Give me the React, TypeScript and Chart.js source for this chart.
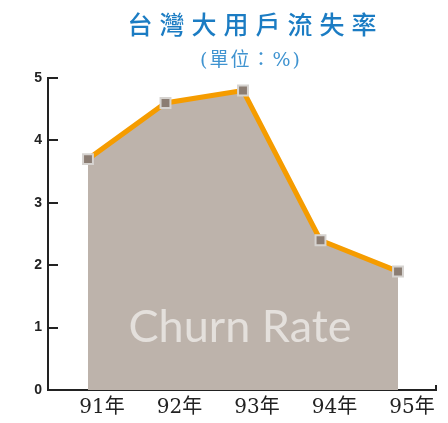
import React, { useEffect, useRef } from 'react';
import { Chart, registerables } from 'chart.js';

Chart.register(...registerables);

const titleText = '台灣大用戶流失率';
const subtitleText = '(單位：%)';
const watermarkText = 'Churn Rate';
const categories = ['91年', '92年', '93年', '94年', '95年'];
const churnRates = [3.7, 4.6, 4.8, 2.4, 1.9];
const yTickValues = [0, 1, 2, 3, 4, 5];

const decorPlugin = {
  id: 'decor',
  afterDatasetsDraw(chart: any) {
    const { ctx } = chart;
    const xs = chart.scales.x;
    const ys = chart.scales.y;
    ctx.save();
    ctx.font = '45px Lato';
    ctx.fillStyle = 'rgba(232,228,225,0.9)';
    ctx.textAlign = 'center';
    ctx.textBaseline = 'middle';
    ctx.fillText(watermarkText, xs.getPixelForValue(2) - 3, ys.getPixelForValue(1));
    ctx.restore();
  },
  afterDraw(chart: any) {
    const { ctx, chartArea } = chart;
    ctx.save();
    ctx.strokeStyle = '#222';
    ctx.lineWidth = 2;
    ctx.beginPath();
    ctx.moveTo(chartArea.right, chartArea.bottom + 1);
    ctx.lineTo(chartArea.right, chartArea.bottom - 5);
    ctx.stroke();

    const drawSpaced = (text: string, font: string, spacing: number, color: string, cx: number, cy: number) => {
      ctx.font = font;
      (ctx as any).letterSpacing = spacing + 'px';
      const w = ctx.measureText(text).width - spacing;
      ctx.fillStyle = color;
      ctx.textAlign = 'left';
      ctx.textBaseline = 'middle';
      ctx.fillText(text, cx - w / 2, cy);
      (ctx as any).letterSpacing = '0px';
    };
    drawSpaced(titleText, '500 25px "Noto Sans CJK TC"', 7, '#1b7cc3', 252, 24);
    drawSpaced(subtitleText, '19px "DejaVu Serif", "Noto Sans CJK TC"', 2, '#3f93d0', 250, 61);
    ctx.restore();
  },
};

export default function App() {
  const ref = useRef<HTMLCanvasElement>(null);
  useEffect(() => {
    document.body.style.margin = '0';
    const chart = new Chart(ref.current!, {
      type: 'line',
      data: {
        datasets: [
          {
            data: churnRates.map((v, i) => ({ x: i, y: v })),
            borderColor: '#f59c00',
            borderWidth: 5,
            backgroundColor: '#bdb3ab',
            fill: 'origin',
            pointStyle: 'rect',
            pointRadius: 7,
            pointBackgroundColor: '#8b7d73',
            pointBorderColor: '#d6d3d0',
            pointBorderWidth: 2,
            tension: 0,
          },
        ],
      },
      options: {
        responsive: false,
        animation: false,
        layout: { padding: { top: 78, right: 12, left: 0, bottom: 0 } },
        plugins: { legend: { display: false }, tooltip: { enabled: false }, title: { display: false } },
        scales: {
          x: {
            type: 'linear',
            min: -0.516,
            max: 4.49,
            afterBuildTicks: (scale: any) => {
              scale.ticks = categories.map((_, i) => ({ value: i }));
            },
            afterFit: (scale: any) => {
              scale.height = 33;
            },
            grid: { display: true, drawOnChartArea: false, drawTicks: false },
            border: { display: true, color: '#222', width: 2 },
            ticks: {
              callback: (v: any) => categories[v] ?? '',
              labelOffset: 14,
              padding: 6,
              maxRotation: 0,
              autoSkip: false,
              color: '#222',
              font: { family: '"DejaVu Serif", "Noto Sans CJK TC"', size: 20 },
            },
          },
          y: {
            min: 0,
            max: 5,
            afterBuildTicks: (scale: any) => {
              scale.ticks = yTickValues.map((v) => ({ value: v }));
            },
            afterFit: (scale: any) => {
              scale.width = 48;
            },
            grid: { drawOnChartArea: false, drawTicks: true, tickLength: -10, color: '#222', lineWidth: 2 },
            border: { display: true, color: '#222', width: 2 },
            ticks: {
              padding: 16,
              color: '#222',
              font: { family: '"Liberation Sans", Arial', size: 14, weight: 'bold' },
            },
          },
        },
      },
      plugins: [decorPlugin],
    });
    return () => chart.destroy();
  }, []);
  return (
    <div style={{ width: 448, height: 423 }}>
      <canvas ref={ref} width={448} height={423} style={{ display: 'block' }} />
    </div>
  );
}
